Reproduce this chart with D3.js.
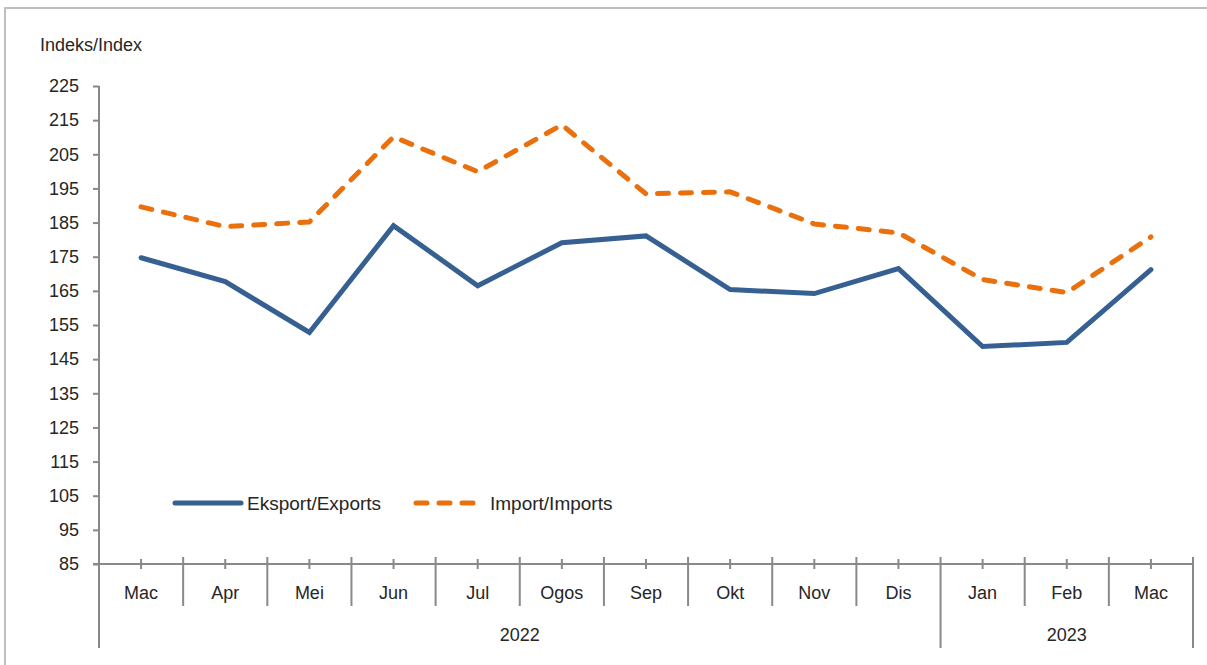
<!DOCTYPE html>
<html>
<head>
<meta charset="utf-8">
<script src="https://cdn.jsdelivr.net/npm/d3@7"></script>
<style>
  body { margin: 0; background: #fff; }
  text { font-family: "Liberation Sans Narrow", "Arial Narrow", "Liberation Sans", Arial, sans-serif; fill: #262626; }
</style>
</head>
<body>
<div id="chart"></div>
<script>
var months = ['Mac', 'Apr', 'Mei', 'Jun', 'Jul', 'Ogos', 'Sep', 'Okt', 'Nov', 'Dis', 'Jan', 'Feb', 'Mac'];
var years = [{label: '2022', from: 0, to: 10}, {label: '2023', from: 10, to: 13}];
var exportsData = [174.7, 167.7, 152.8, 184.1, 166.5, 179.1, 181.1, 165.4, 164.2, 171.5, 148.7, 149.9, 171.2];
var importsData = [189.6, 183.8, 185.2, 210.1, 199.9, 213.6, 193.4, 194.0, 184.6, 182.0, 168.3, 164.5, 180.8];
var yTicks = d3.range(85, 226, 10);

var width = 1207,
    height = 665;
var plotLeft = 99, plotRight = 1193, plotTop = 86, plotBottom = 564;
var axisColor = '#898989';

var svg = d3.select('#chart').append('svg')
    .attr('width', width)
    .attr('height', height);

// outer frame
svg.append('rect')
    .attr('x', 5).attr('y', 8)
    .attr('width', width + 10).attr('height', height + 10)
    .attr('fill', 'none')
    .attr('stroke', '#bfbfbf')
    .attr('stroke-width', 2);

var yScale = d3.scaleLinear()
    .domain([85, 225])
    .range([plotBottom, plotTop]);

var xBand = d3.scaleBand()
    .domain(d3.range(months.length))
    .range([plotLeft, plotRight]);

var xCenter = function(i) { return xBand(i) + xBand.bandwidth() / 2; };
var xEdge = function(i) { return i < months.length ? xBand(i) : plotRight; };

// y axis
var yAxis = svg.append('g')
    .attr('transform', 'translate(' + plotLeft + ',0)')
    .call(d3.axisLeft(yScale).tickValues(yTicks).tickSize(6).tickPadding(14));
yAxis.select('.domain').remove();
yAxis.selectAll('.tick line').attr('stroke', axisColor).attr('stroke-width', 2);
yAxis.selectAll('.tick text').style('font-size', '18px').attr('fill', '#262626');

svg.append('line')
    .attr('x1', plotLeft).attr('x2', plotLeft)
    .attr('y1', plotTop).attr('y2', 648)
    .attr('stroke', axisColor).attr('stroke-width', 2);

svg.append('text')
    .attr('x', 40).attr('y', 51)
    .style('font-size', '18px')
    .text('Indeks/Index');

// x axis
svg.append('line')
    .attr('x1', plotLeft - 6).attr('x2', plotRight)
    .attr('y1', plotBottom).attr('y2', plotBottom)
    .attr('stroke', axisColor).attr('stroke-width', 2);

svg.selectAll('.minor').data(months)
  .enter().append('line')
    .attr('x1', function(d, i) { return xCenter(i); })
    .attr('x2', function(d, i) { return xCenter(i); })
    .attr('y1', plotBottom - 5).attr('y2', plotBottom + 5)
    .attr('stroke', axisColor).attr('stroke-width', 2);

svg.selectAll('.major').data(d3.range(1, months.length + 1))
  .enter().append('line')
    .attr('x1', function(d) { return xEdge(d); })
    .attr('x2', function(d) { return xEdge(d); })
    .attr('y1', plotBottom - 7).attr('y2', 606)
    .attr('stroke', axisColor).attr('stroke-width', 2);

svg.selectAll('.month').data(months)
  .enter().append('text')
    .attr('x', function(d, i) { return xCenter(i); })
    .attr('y', 599)
    .attr('text-anchor', 'middle')
    .style('font-size', '18px')
    .text(function(d) { return d; });

svg.selectAll('.ysep').data(years)
  .enter().append('line')
    .attr('x1', function(d) { return xEdge(d.to); })
    .attr('x2', function(d) { return xEdge(d.to); })
    .attr('y1', 606).attr('y2', 648)
    .attr('stroke', axisColor).attr('stroke-width', 2);

svg.selectAll('.year').data(years)
  .enter().append('text')
    .attr('x', function(d) { return (xEdge(d.from) + xEdge(d.to)) / 2; })
    .attr('y', 641)
    .attr('text-anchor', 'middle')
    .style('font-size', '18px')
    .text(function(d) { return d.label; });

// lines
var line = d3.line()
    .x(function(d, i) { return xCenter(i); })
    .y(function(d) { return yScale(d); });

svg.append('path')
    .datum(importsData)
    .attr('d', line)
    .attr('fill', 'none')
    .attr('stroke', '#E9700D')
    .attr('stroke-width', 5)
    .attr('stroke-linecap', 'round')
    .attr('stroke-linejoin', 'round')
    .attr('stroke-dasharray', '11,12');

svg.append('path')
    .datum(exportsData)
    .attr('d', line)
    .attr('fill', 'none')
    .attr('stroke', '#376092')
    .attr('stroke-width', 5)
    .attr('stroke-linecap', 'round')
    .attr('stroke-linejoin', 'miter');

// legend
var legend = svg.append('g');
legend.append('line')
    .attr('x1', 175).attr('x2', 241)
    .attr('y1', 503).attr('y2', 503)
    .attr('stroke', '#376092').attr('stroke-width', 5)
    .attr('stroke-linecap', 'round');
legend.append('text')
    .attr('x', 247).attr('y', 510)
    .style('font-size', '19px')
    .text('Eksport/Exports');
legend.append('line')
    .attr('x1', 416).attr('x2', 478)
    .attr('y1', 503).attr('y2', 503)
    .attr('stroke', '#E9700D').attr('stroke-width', 5)
    .attr('stroke-linecap', 'round')
    .attr('stroke-dasharray', '11,12');
legend.append('text')
    .attr('x', 490).attr('y', 510)
    .style('font-size', '19px')
    .text('Import/Imports');
</script>
</body>
</html>
